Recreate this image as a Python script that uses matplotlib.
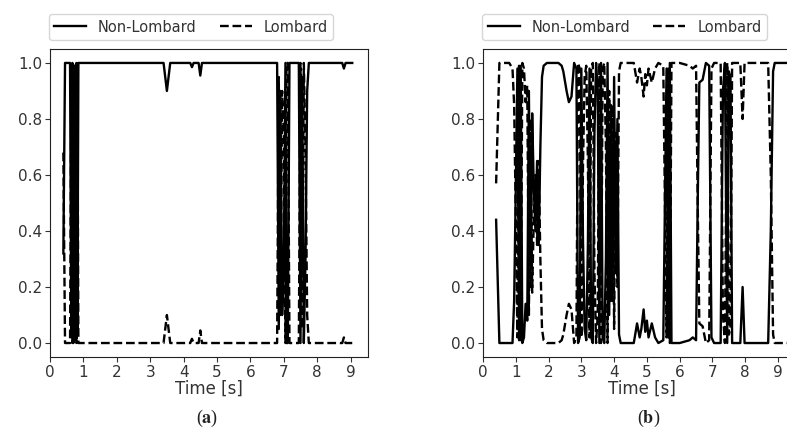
import matplotlib
matplotlib.use('Agg')
import matplotlib.pyplot as plt

plt.rcParams['mathtext.fontset'] = 'stix'

# panel (a) - class probabilities over time
t_a = [0.40, 0.45, 0.50, 0.60, 0.64, 0.67, 0.70, 0.73, 0.76, 0.79, 0.82, 0.85,
       3.40, 3.50, 3.60, 4.20, 4.25, 4.30, 4.45, 4.50, 4.55, 6.80, 6.85, 6.90,
       6.95, 7.00, 7.05, 7.08, 7.12, 7.17, 7.45, 7.50, 7.55, 7.60, 7.65, 7.70,
       7.75, 8.75, 8.80, 8.85, 9.05]
nonlomb_a = [0.32, 1.00, 1.00, 1.00, 0.02, 1.00, 0.00, 0.99, 0.02, 1.00, 0.05, 1.00,
             1.00, 0.90, 1.00, 1.00, 0.985, 1.00, 1.00, 0.955, 1.00, 1.00, 0.05, 0.90,
             0.10, 0.25, 1.00, 0.00, 0.00, 1.00, 1.00, 0.00, 0.95, 0.00, 0.30, 0.90,
             1.00, 1.00, 0.98, 1.00, 1.00]
lomb_a = [0.68, 0.00, 0.00, 0.00, 0.98, 0.00, 1.00, 0.01, 0.98, 0.00, 0.95, 0.00,
          0.00, 0.10, 0.00, 0.00, 0.015, 0.00, 0.00, 0.045, 0.00, 0.00, 0.95, 0.10,
          0.90, 0.75, 0.00, 1.00, 1.00, 0.00, 0.00, 1.00, 0.05, 1.00, 0.70, 0.10,
          0.00, 0.00, 0.02, 0.00, 0.00]

# panel (b)
t_b = [0.40, 0.50, 0.80, 0.90, 0.95, 1.00, 1.05, 1.10, 1.15, 1.20, 1.25, 1.30,
       1.35, 1.40, 1.45, 1.50, 1.55, 1.60, 1.65, 1.70, 1.75, 1.80, 1.85, 1.95,
       2.30, 2.40, 2.45, 2.55, 2.62, 2.70, 2.78, 2.85, 2.90, 2.95, 3.00, 3.05,
       3.10, 3.15, 3.20, 3.25, 3.30, 3.35, 3.40, 3.45, 3.50, 3.55, 3.60, 3.65,
       3.70, 3.75, 3.80, 3.85, 3.90, 3.95, 4.00, 4.05, 4.10, 4.15, 4.20, 4.60,
       4.70, 4.78, 4.83, 4.90, 4.95, 5.00, 5.05, 5.15, 5.25, 5.35, 5.50, 5.60,
       5.65, 5.70, 5.75, 6.00, 6.30, 6.40, 6.50, 6.55, 6.60, 6.70, 6.80, 6.90,
       6.97, 7.05, 7.25, 7.32, 7.38, 7.45, 7.50, 7.55, 7.60, 7.85, 7.92, 7.98,
       8.70, 8.78, 8.85, 8.90, 9.30]
nonlomb_b = [0.44, 0.00, 0.00, 0.00, 0.15, 0.55, 0.98, 0.01, 0.99, 0.00, 0.02, 0.14,
             0.08, 0.90, 0.20, 0.82, 0.55, 0.40, 0.65, 0.35, 0.70, 0.95, 0.99, 1.00,
             1.00, 0.99, 0.97, 0.90, 0.86, 0.88, 1.00, 0.98, 0.00, 0.02, 0.98, 0.37,
             0.05, 0.01, 0.35, 0.98, 0.02, 0.00, 0.75, 1.00, 0.90, 0.00, 1.00, 0.02,
             0.00, 0.30, 1.00, 0.10, 0.85, 0.15, 0.95, 0.25, 0.80, 0.03, 0.00, 0.00,
             0.07, 0.02, 0.05, 0.12, 0.04, 0.08, 0.02, 0.07, 0.02, 0.00, 0.01, 0.98,
             0.02, 1.00, 0.00, 0.00, 0.01, 0.02, 0.01, 0.50, 0.93, 0.94, 1.00, 0.99,
             0.02, 0.00, 0.00, 0.90, 1.00, 0.00, 0.97, 0.95, 0.00, 0.00, 0.20, 0.00,
             0.00, 0.40, 0.97, 1.00, 1.00]
lomb_b = [0.57, 1.00, 1.00, 0.98, 0.85, 0.45, 0.02, 0.99, 0.01, 1.00, 0.98, 0.86,
          0.92, 0.10, 0.80, 0.18, 0.45, 0.60, 0.35, 0.65, 0.30, 0.05, 0.01, 0.00,
          0.00, 0.01, 0.03, 0.10, 0.14, 0.12, 0.00, 0.02, 1.00, 0.98, 0.02, 0.63,
          0.95, 0.99, 0.65, 0.02, 0.98, 1.00, 0.25, 0.00, 0.10, 1.00, 0.00, 0.98,
          1.00, 0.70, 0.00, 0.90, 0.15, 0.85, 0.05, 0.75, 0.20, 0.97, 1.00, 1.00,
          0.93, 0.98, 0.95, 0.88, 0.96, 0.92, 0.98, 0.93, 0.98, 1.00, 0.99, 0.02,
          0.98, 0.00, 1.00, 1.00, 0.99, 0.98, 0.99, 0.50, 0.07, 0.06, 0.00, 0.01,
          0.98, 1.00, 1.00, 0.10, 0.00, 1.00, 0.03, 0.05, 1.00, 1.00, 0.80, 1.00,
          1.00, 0.60, 0.03, 0.00, 0.00]

panels = [
    (t_a, nonlomb_a, lomb_a, [50 / 787, 0.183, 0.404, 0.705], 9.52, 0.2427, 0.2630, 'a'),
    (t_b, nonlomb_b, lomb_b, [483 / 787, 0.183, 0.404, 0.705], 9.70, 0.7935, 0.8247, 'b'),
]

fig = plt.figure(figsize=(7.87, 4.37), dpi=100)
txt = '#333333'
for t, nl, lb, rect, xmax, legx, labx, letter in panels:
    ax = fig.add_axes(rect)
    ax.plot(t, nl, color='black', lw=1.7, label='Non-Lombard')
    ax.plot(t, lb, color='black', lw=1.7, ls='--', label='Lombard')
    ax.set_xlim(0, xmax)
    ax.set_ylim(-0.05, 1.05)
    ax.set_xticks(range(10))
    ax.set_yticks([0.0, 0.2, 0.4, 0.6, 0.8, 1.0])
    ax.tick_params(labelsize=11, colors=txt, labelcolor=txt, pad=2)
    for s in ax.spines.values():
        s.set_color('#222222')
    ax.set_xlabel('Time [s]', fontsize=12, color=txt, labelpad=0)
    fig.legend(handles=ax.get_lines(), loc='center', bbox_to_anchor=(legx, 0.938),
               ncol=2, fontsize=10.5, frameon=True, edgecolor='#cccccc',
               handlelength=2.2, columnspacing=1.6, borderpad=0.35, fancybox=True,
               labelcolor=txt)
    fig.text(labx, 0.043, '(' + r'$\mathbf{' + letter + '}$' + ')', ha='center', va='center',
             fontsize=13, family='Liberation Serif', color='#222222')

fig.savefig('out.png', dpi=100)
